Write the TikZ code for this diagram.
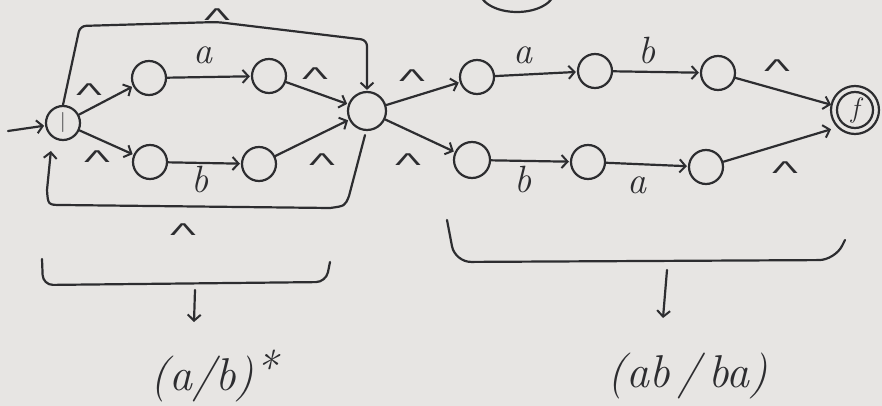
\documentclass[tikz,border=0pt]{standalone}
\usepackage{fontspec}
\usepackage{graphicx}
\usetikzlibrary{arrows.meta,calc}
\newfontfamily\lamfont{DejaVu Sans}
\definecolor{paper}{RGB}{231,229,227}
\definecolor{ink}{RGB}{45,45,48}
\newcommand{\lam}{\scalebox{2.7}[1.15]{\lamfont Λ}}
\tikzset{
  state/.style={circle, draw=ink, line width=2.2pt, minimum size=34pt, inner sep=0pt},
  arr/.style={draw=ink, line width=2.2pt, line cap=round, line join=round,
    -{Straight Barb[length=6pt,width=13pt,line width=2pt]}, shorten >=1pt},
  wire/.style={draw=ink, line width=2.2pt, line cap=round, line join=round},
  sym/.style={text=ink, font=\fontsize{38}{40}\selectfont\itshape, inner sep=0pt},
  eps/.style={text=ink, font=\fontsize{14}{14}\selectfont, inner sep=0pt},
  big/.style={text=ink, font=\fontsize{46}{48}\selectfont\itshape, inner sep=0pt}
}
\begin{document}
\begin{tikzpicture}[x=1pt,y=-1pt]
  % sheet
  \fill[paper] (0,0) rectangle (882,406);
  \useasboundingbox (0,0) rectangle (882,406);
  \clip (0,0) rectangle (882,406);

  % part of a shape cut off by the top edge
  \draw[wire] (517,-10) ellipse (38 and 22);

  % (a|b)* part
  \node[state] (s)  at (63,123) {};
  \node[text=ink, font=\fontsize{20}{20}\selectfont] at (s) {|};
  \node[state] (ta) at (149,78) {};
  \node[state] (tb) at (269,76) {};
  \node[state] (ba) at (150,162) {};
  \node[state] (bb) at (259,164) {};
  \node[state, minimum size=38pt] (m) at (367,111) {};

  \coordinate (in) at (8,131);
  \draw[arr] (in) -- (s);
  \draw[arr] (s) -- (ta);
  \draw[arr] (ta) -- (tb);
  \draw[arr] (tb) -- (m);
  \draw[arr] (s) -- (ba);
  \draw[arr] (ba) -- (bb);
  \draw[arr] (bb) -- (m);

  % skip over the loop
  \coordinate (k1) at (80,26);
  \coordinate (k2) at (217,22);
  \coordinate (k3) at (367,40);
  \draw[arr, rounded corners=6pt] (s.north) -- (k1) -- (k2) -- (k3) -- (m.north);
  % back edge of the loop
  \coordinate (r1) at (349,196);
  \coordinate (r2) at (330,208);
  \coordinate (r3) at (62,205);
  \coordinate (r4) at (47,190);
  \coordinate (r5) at (51,150);
  \draw[arr] ($(m.south)+(-2,4)$) -- (r1) .. controls (345,206) .. (r2)
    -- (r3) .. controls (48,205) .. (r4) -- (r5);

  \node[eps] (e0) at (217,15) {\lam};
  \node[eps] (e1) at (89,90) {\lam};
  \node[sym] (l1) at (203,55) {a};
  \node[eps] (e2) at (315,74) {\lam};
  \node[eps] (e3) at (97,157) {\lam};
  \node[sym] (l2) at (200,180) {b};
  \node[eps] (e4) at (322,160) {\lam};
  \node[eps] (e5) at (183,230) {\lam};

  % (ab|ba) part
  \node[state] (n1) at (477,77) {};
  \node[state] (n2) at (595,71) {};
  \node[state] (n3) at (718,73) {};
  \node[state, minimum size=36pt] (p1) at (472,160) {};
  \node[state] (p2) at (588,162) {};
  \node[state] (p3) at (706,167) {};
  \node[state, minimum size=36pt] (f) at (855,110) {};
  \draw[wire] (f) circle (24);
  \node[text=ink, font=\fontsize{28}{28}\selectfont\itshape] at (855,111) {f};

  \draw[arr] (m) -- (n1);
  \draw[arr] (n1) -- (n2);
  \draw[arr] (n2) -- (n3);
  \draw[arr] (n3) -- ($(f)+(-23,-5)$);
  \draw[arr] (m) -- (p1);
  \draw[arr] (p1) -- (p2);
  \draw[arr] (p2) -- (p3);
  \draw[arr] (p3) -- ($(f)+(-23,19)$);

  \node[eps] (e6) at (412,76) {\lam};
  \node[sym] (l3) at (523,55) {a};
  \node[sym] (l4) at (647,51) {b};
  \node[eps] (e7) at (777,66) {\lam};
  \node[eps] (e8) at (408,160) {\lam};
  \node[sym] (l5) at (523,180) {b};
  \node[sym] (l6) at (637,185) {a};
  \node[eps] (e9) at (785,168) {\lam};

  % braces with the parts they stand for
  \draw[wire, rounded corners=10pt] (42,259) -- (43,285) -- (326,282) -- (330,262);
  \coordinate (c1) at (195,290);
  \coordinate (c2) at (194,322);
  \draw[arr, shorten >=0pt] (c1) -- (c2);
  \node[big] (t1) at (214,376) {(a/b)\raisebox{0.35ex}{*}};

  \draw[wire, rounded corners=16pt] (447,220) -- (455,262) -- (835,260) -- (845,240);
  \coordinate (d1) at (667,270);
  \coordinate (d2) at (663,318);
  \draw[arr, shorten >=0pt] (d1) -- (d2);
  \node[big] (t2) at (688,376) {(ab\,/\,ba)};
\end{tikzpicture}
\end{document}
